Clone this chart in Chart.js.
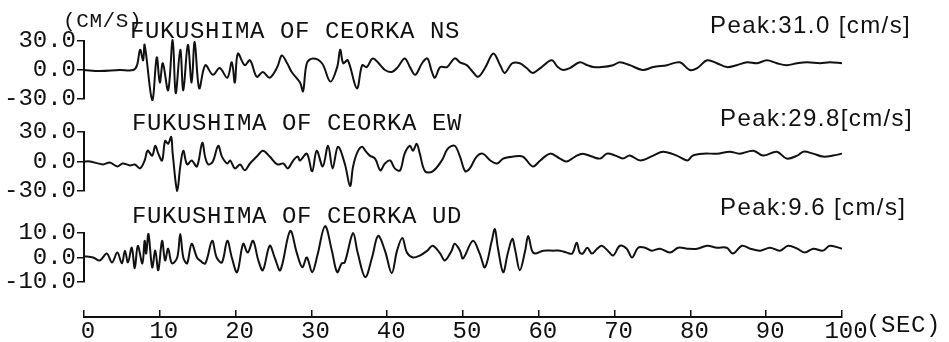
<!DOCTYPE html>
<html lang="en">
<head>
<meta charset="UTF-8">
<title>FUKUSHIMA OF CEORKA - velocity records</title>
<script src="https://cdn.jsdelivr.net/npm/chart.js"></script>
<style>
  body{margin:0;background:#fff}
  #wrap{position:relative;width:949px;height:342px;background:#fff;overflow:hidden}
  #wrap canvas{position:absolute;left:0;top:0}
  .lbl{position:absolute;white-space:nowrap;color:#111;line-height:1}
  .mono{font-family:'Liberation Mono',monospace;font-size:24px;letter-spacing:0.6px}
  .peak{font-family:'Liberation Sans',Arial,sans-serif;font-size:24px;letter-spacing:1.4px}
</style>
</head>
<body>
<div id="wrap">
  <canvas id="ns" width="949" height="342"></canvas>
  <canvas id="ew" width="949" height="342"></canvas>
  <canvas id="ud" width="949" height="342"></canvas>
  <canvas id="axis" width="949" height="342"></canvas>

  <div class="lbl mono" style="left:63px;top:11px;font-size:21px">(CM/S)</div>
  <div class="lbl mono" style="left:130px;top:20px">FUKUSHIMA OF CEORKA NS</div>
  <div class="lbl mono" style="left:132px;top:112px">FUKUSHIMA OF CEORKA EW</div>
  <div class="lbl mono" style="left:132px;top:205px">FUKUSHIMA OF CEORKA UD</div>
  <div class="lbl peak" style="left:710px;top:13px">Peak:31.0 [cm/s]</div>
  <div class="lbl peak" style="left:720px;top:106px">Peak:29.8[cm/s]</div>
  <div class="lbl peak" style="left:720px;top:195px">Peak:9.6 [cm/s]</div>
  <div class="lbl mono" style="left:866px;top:314px">(SEC)</div>
</div>

<script>
// time (sec) / velocity (cm/s)
const nsTime=[0,2.1,4.7,6.5,7.0,7.4,7.8,8.0,9.0,9.6,
  10.0,10.4,11.1,11.7,12.1,12.7,13.1,13.7,14.2,14.6,
  15.2,16.0,17.0,17.9,18.9,19.5,19.9,20.3,21.2,21.9,
  22.8,23.6,24.5,25.5,26.1,26.8,27.4,28.5,28.9,29.4,
  30.2,31.4,32.5,33.4,33.8,34.2,34.8,36.0,36.7,37.3,
  38.1,39.1,39.7,40.6,41.4,42.3,43.0,43.7,44.6,45.3,
  45.9,46.3,47.0,47.9,48.9,49.6,50.5,51.3,52.0,52.9,
  54.0,54.9,55.5,56.5,57.5,58.4,59.2,60.2,61.7,62.5,
  63.2,64.1,65.4,66.4,67.2,68.3,69.8,70.7,72.0,73.7,
  75.1,76.9,78.6,79.9,80.9,82.2,83.5,84.8,86.1,87.5,
  88.8,90.1,91.4,92.7,94.1,95.4,97.1,98.4,100];
const nsVel=[0,-1,0,0,5,21,10,26,-31,13,
  -13,7,-21,31,-24,21,-21,26,-13,29,
  -19,5,-5,2,-8,8,-13,17,5,10,
  -7,-2,-8,3,15,7,-2,-13,-22,7,
  12,7,-12,3,21,7,10,-19,5,3,
  12,5,0,-2,3,12,3,-5,7,12,
  -2,-8,3,3,12,8,5,-2,-7,2,
  17,5,-3,7,7,2,-3,2,10,3,
  0,2,8,5,3,3,5,8,5,0,
  3,5,8,0,2,10,7,3,5,8,
  7,10,7,5,7,8,7,8,7];

const ewTime=[0,0.8,2.5,3.4,4.4,5.1,6.1,6.7,7.4,8.0,
  8.4,9.0,9.4,9.8,10.3,10.7,11.1,11.5,11.7,12.3,
  12.7,13.1,13.6,14.2,14.9,15.6,16.0,16.4,17.0,17.7,
  18.2,18.9,19.3,19.9,20.6,21.2,21.9,22.8,23.6,24.5,
  25.5,26.3,26.9,27.6,28.2,28.5,29.4,30.1,30.7,31.5,
  32.2,32.8,33.5,34.4,35.1,35.5,36.1,36.7,37.1,37.7,
  38.4,39.1,39.7,40.4,41.0,41.7,42.3,43.0,43.4,43.9,
  44.3,45.0,46.0,47.2,48.0,48.9,49.6,50.3,50.9,51.8,
  52.6,53.6,54.5,55.3,56.6,57.9,59.2,60.2,61.5,62.8,
  63.7,64.8,65.8,67.0,68.1,69.0,70.1,71.1,72.0,73.4,
  75.1,76.4,78.2,79.6,80.3,81.7,83.5,85.2,86.5,88.3,
  89.6,91.4,92.7,94.1,94.9,96.2,97.5,98.8,100];
const ewVel=[0,0,-3,-1,-5,-2,-4,-3,-7,1,
  11,6,16,8,1,21,18,25,8,-30,
  -5,11,-3,1,-5,19,4,-3,0,16,
  5,-2,1,-7,-3,-9,-2,5,11,5,
  -3,-2,-7,1,5,1,8,-10,11,-5,
  16,-7,15,-2,-25,-5,10,15,11,6,
  3,-9,-2,1,-7,-9,8,16,11,18,
  8,-10,-10,1,13,16,5,-10,-7,5,
  8,1,-2,3,5,5,-5,1,8,3,
  0,5,8,5,3,8,6,3,6,1,
  6,10,6,1,6,8,8,10,8,11,
  6,10,3,6,10,8,5,6,8];

const udTime=[0,1.2,2.1,3.0,3.7,4.4,5.0,5.4,5.8,6.3,
  6.7,7.1,7.7,8.0,8.2,8.5,9.0,9.4,9.8,10.3,
  10.7,11.1,11.6,12.3,12.7,13.1,13.6,14.2,14.9,15.3,
  16.0,16.9,17.5,18.2,18.9,19.5,20.2,21.0,21.6,22.3,
  23.0,23.6,24.5,25.2,25.9,27.2,28.1,28.8,29.4,30.1,
  30.8,31.8,32.7,33.4,34.0,34.4,35.5,36.1,37.1,38.0,
  38.8,39.7,40.6,41.3,42.0,42.6,43.4,44.3,45.3,46.0,
  47.0,47.6,48.5,48.9,49.6,50.0,51.3,52.2,52.9,53.8,
  54.2,54.6,55.3,55.9,56.5,56.9,57.5,58.2,58.6,59.1,
  59.5,60.6,61.9,62.8,63.7,64.4,65.0,65.4,65.8,66.4,
  67.0,67.7,68.3,69.1,69.8,70.7,71.6,72.3,73.1,74.0,
  74.9,76.0,77.3,78.4,79.6,80.9,82.2,83.5,84.8,85.6,
  86.8,87.9,89.2,90.5,91.8,92.9,94.1,95.1,96.2,97.5,
  98.4,100];
const udVel=[0.5,0,-1.2,1.6,-2,2,-2.4,2.8,-2,4,
  -4.4,4.8,-2.4,6.8,1.6,9.6,-4,2.8,-5.2,6.8,
  -1.2,3.6,-2.4,0,9.6,0,-2.4,5.6,0,-1.2,
  -2.4,6.8,0,-2,6.8,0,-6,5.6,2,6.8,
  -1.2,-5.2,4.8,-0.4,-5.2,10.8,1.6,-4,0,-6,
  1,12.8,2.8,-6,-2.4,-2,10,2,-8,0,
  8.8,2.8,-6.4,2.8,8,2,0,0.8,2.8,4.8,
  1.6,-1.2,2.8,5.6,2.8,-0.4,6.8,1.6,-4,6.8,
  11.6,4,-6,1.6,7.6,2.8,-5.2,2.8,8.8,2.8,
  1.6,2.8,2.8,2.8,2,1.6,6,2,1.6,4,
  1.6,3.6,4.8,2.8,0.8,4.8,3.6,0,4,4,
  2.8,3.6,2,4,3.6,3.6,4.8,4,4,1.6,
  4.8,3.6,2.8,4,2.8,4.8,3.6,2,3.6,2.8,
  4.8,3.6];

const timeTicks=[0,10,20,30,40,50,60,70,80,90,100];

const INK='#111';
const monoFont={family:"'Liberation Mono', monospace",size:24};

function panel(id,t,v,lim,padTop,padBottom){
  return new Chart(document.getElementById(id),{
    type:'line',
    data:{datasets:[{
      data:t.map((x,i)=>({x,y:v[i]})),
      borderColor:INK,borderWidth:2,pointRadius:0,tension:0.35,clip:false
    }]},
    options:{
      responsive:false,animation:false,
      layout:{padding:{top:padTop,bottom:padBottom,left:0,right:107}},
      plugins:{legend:{display:false},tooltip:{enabled:false}},
      scales:{
        x:{type:'linear',min:timeTicks[0],max:timeTicks[timeTicks.length-1],display:false},
        y:{min:-lim,max:lim,afterFit:s=>{s.width=84;},
           afterBuildTicks:s=>{s.ticks=[-lim,0,lim].map(value=>({value}));},
           ticks:{autoSkip:false,callback:val=>val.toFixed(1),color:INK,font:monoFont,padding:1},
           grid:{drawOnChartArea:false,tickLength:7,color:INK,lineWidth:1.5},
           border:{color:INK,width:2}}
      }
    }
  });
}

panel('ns',nsTime,nsVel,30,41,243);
panel('ew',ewTime,ewVel,30,132,151);
panel('ud',udTime,udVel,10,233,60);

// shared time axis, ticks pointing up into a thin strip
new Chart(document.getElementById('axis'),{
  type:'line',
  data:{datasets:[]},
  options:{
    responsive:false,animation:false,
    layout:{padding:{top:310,bottom:0,left:84,right:107}},
    plugins:{legend:{display:false},tooltip:{enabled:false}},
    scales:{
      x:{type:'linear',min:timeTicks[0],max:timeTicks[timeTicks.length-1],
         afterFit:s=>{s.height=25;},
         afterBuildTicks:s=>{s.ticks=timeTicks.map(value=>({value}));},
         ticks:{labelOffset:4,padding:0,color:INK,font:monoFont,maxRotation:0,autoSkip:false},
         grid:{drawOnChartArea:true,drawTicks:false,color:INK,lineWidth:1.5},
         border:{color:INK,width:2}},
      y:{display:false,min:0,max:1}
    }
  }
});
</script>
</body>
</html>
